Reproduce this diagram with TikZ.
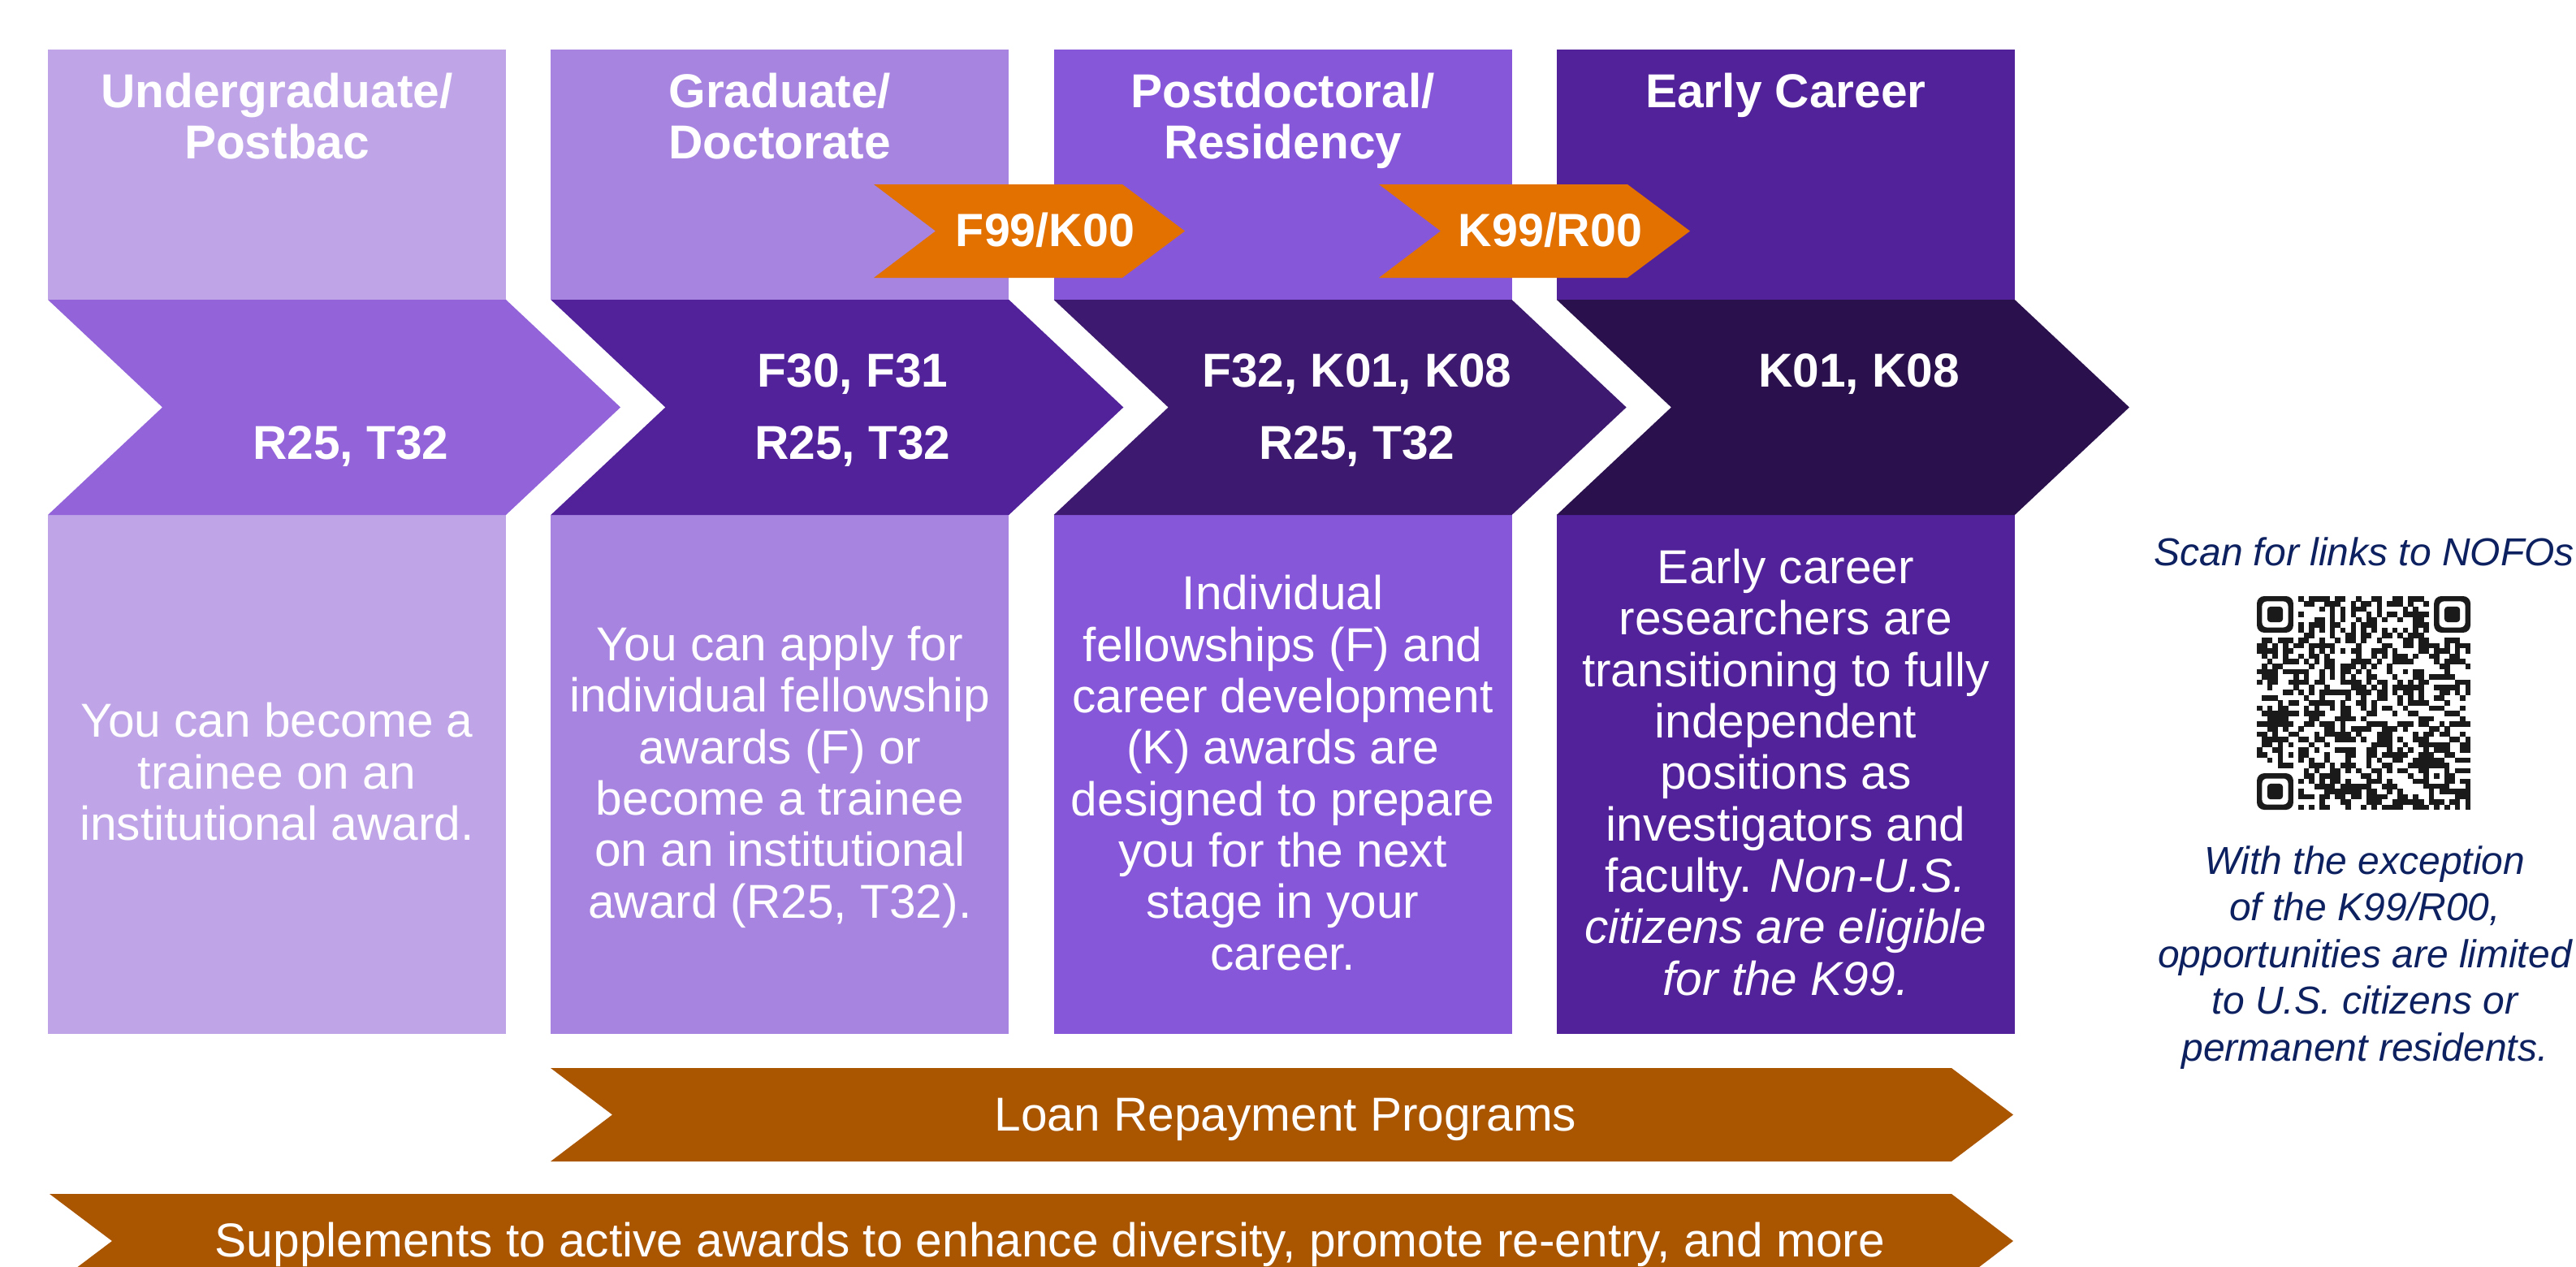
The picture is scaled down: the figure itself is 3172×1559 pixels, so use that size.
\documentclass[tikz,border=0pt]{standalone}
\usepackage{fontspec}
\setmainfont{Liberation Sans}
\definecolor{hA}{HTML}{BFA5E8}
\definecolor{cA}{HTML}{9263D9}
\definecolor{hB}{HTML}{A784E0}
\definecolor{cB}{HTML}{52229B}
\definecolor{hC}{HTML}{8757D9}
\definecolor{cC}{HTML}{3D1A70}
\definecolor{hD}{HTML}{52229B}
\definecolor{cD}{HTML}{2A114D}
\definecolor{tagorange}{HTML}{E37100}
\definecolor{bandbrown}{HTML}{AA5500}
\definecolor{navy}{HTML}{0D2160}
\definecolor{qrdark}{HTML}{1A1A1A}
\tikzset{
  hdr/.style={text=white, font=\bfseries\fontsize{29.3}{31.25}\selectfont, align=center, anchor=base, inner sep=0pt},
  chv/.style={text=white, font=\bfseries\fontsize{29.3}{44.5}\selectfont, align=center, anchor=base, inner sep=0pt},
  tagtext/.style={text=white, font=\bfseries\fontsize{28.7}{31}\selectfont, anchor=base, inner sep=0pt},
  body/.style={text=white, font=\fontsize{29.3}{31.65}\selectfont, align=center, anchor=base, inner sep=0pt},
  bandtext/.style={text=white, font=\fontsize{29.3}{31.65}\selectfont, anchor=base, inner sep=0pt},
  note/.style={text=navy, font=\itshape\fontsize{24}{28.75}\selectfont, align=center, anchor=base, inner sep=0pt},
}
\begin{document}
\begin{tikzpicture}[x=0.5pt,y=-0.5pt]
\useasboundingbox (0,0) rectangle (3172,1559);
\clip (0,0) rectangle (3172,1559);
\fill[white] (0,0) rectangle (3172,1559);
% columns
\foreach \i/\hc/\cc in {0/hA/cA,1/hB/cB,2/hC/cC,3/hD/cD}{
  \pgfmathsetmacro\L{59+619.3*\i}
  \pgfmathsetmacro\R{\L+564}
  \fill[\hc] (\L,61) rectangle (\R,369);
  \fill[\hc] (\L,634) rectangle (\R,1273);
  \fill[\cc] (\L,369) -- (\R,369) -- ({\R+141},501.5) -- (\R,634) -- (\L,634) -- ({\L+141},501.5) -- cycle;
}
% orange tags
\fill[tagorange] (1076,227) -- (1382,227) -- (1459,284.5) -- (1382,342) -- (1076,342) -- (1152,284.5) -- cycle;
\fill[tagorange] (1698,227) -- (2004,227) -- (2081,284.5) -- (2004,342) -- (1698,342) -- (1774,284.5) -- cycle;
% brown bands
\fill[bandbrown] (678,1315) -- (2403,1315) -- (2479,1372.5) -- (2403,1430) -- (678,1430) -- (754,1372.5) -- cycle;
\fill[bandbrown] (61,1470) -- (2403,1470) -- (2479,1528) -- (2403,1586) -- (61,1586) -- (138,1528) -- cycle;
% headers (anchor base = baseline of last line)
\node[hdr] (h1) at (341,195) {Undergraduate/\\Postbac};
\node[hdr] (h2) at (960.3,195) {Graduate/\\Doctorate};
\node[hdr] (h3) at (1579.6,195) {Postdoctoral/\\Residency};
\node[hdr] (h4) at (2198.9,132.6) {Early Career};
% chevron texts
\node[chv] (c1) at (432,565) {R25, T32};
\node[chv] (c2) at (1050,565) {F30, F31\\R25, T32};
\node[chv] (c3) at (1671,565) {F32, K01, K08\\R25, T32};
\node[chv] (c4) at (2289,476) {K01, K08};
% tags
\node[tagtext] (t1) at (1287,303.6) {F99/K00};
\node[tagtext] (t2) at (1909,303.6) {K99/R00};
% bodies
\node[body] (b1) at (341,1034.5) {You can become a\\trainee on an\\institutional award.};
\node[body] (b2) at (960.3,1130) {You can apply for\\individual fellowship\\awards (F) or\\become a trainee\\on an institutional\\award (R25, T32).};
\node[body] (b3) at (1579.6,1194) {Individual\\fellowships (F) and\\career development\\(K) awards are\\designed to prepare\\you for the next\\stage in your\\career.};
\node[body] (b4) at (2198.9,1225) {Early career\\researchers are\\transitioning to fully\\independent\\positions as\\investigators and\\faculty. \textit{Non-U.S.}\\\textit{citizens are eligible}\\\textit{for the K99.}};
% bands text
\node[bandtext] (lrp) at (1583,1392) {Loan Repayment Programs};
\node[bandtext] (sup) at (1293,1547) {Supplements to active awards to enhance diversity, promote re-entry, and more};
% note
\node[note] (n0) at (2911,696) {Scan for links to NOFOs};
\node[note] (n1) at (2912,1306) {With the exception\\of the K99/R00,\\opportunities are limited\\to U.S. citizens or\\permanent residents.};
% QR code (drawn pattern)
\begin{scope}[shift={(2779,734)}]
  \pgfmathsetseed{4242}
  \def\qm{6.415}
  \foreach \i in {0,...,40}{
    \foreach \j in {0,...,40}{
      \pgfmathtruncatemacro\qskip{((\i<8)&&(\j<8))||((\i>32)&&(\j<8))||((\i<8)&&(\j>32))||((\i>31)&&(\i<37)&&(\j>31)&&(\j<37))||(\i==6)||(\j==6)}
      \ifnum\qskip=0
        \pgfmathrandominteger{\qr}{0}{99}
        \ifnum\qr<48
          \fill[qrdark] ({\i*\qm},{\j*\qm}) rectangle +(6.6,6.6);
        \fi
      \fi
    }
  }
  \foreach \k in {8,10,...,32}{
    \fill[qrdark] ({6*\qm},{\k*\qm}) rectangle +(6.6,6.6);
    \fill[qrdark] ({\k*\qm},{6*\qm}) rectangle +(6.6,6.6);
  }
  \foreach \fx/\fy in {0/0,34/0,0/34}{
    \fill[qrdark, rounded corners=4.5pt] ({\fx*\qm},{\fy*\qm}) rectangle ({(\fx+7)*\qm},{(\fy+7)*\qm});
    \fill[white, rounded corners=3pt] ({(\fx+1)*\qm},{(\fy+1)*\qm}) rectangle ({(\fx+6)*\qm},{(\fy+6)*\qm});
    \fill[qrdark, rounded corners=2pt] ({(\fx+2)*\qm},{(\fy+2)*\qm}) rectangle ({(\fx+5)*\qm},{(\fy+5)*\qm});
  }
  \fill[qrdark] ({32*\qm},{32*\qm}) rectangle ({37*\qm},{37*\qm});
  \fill[white] ({33*\qm},{33*\qm}) rectangle ({36*\qm},{36*\qm});
  \fill[qrdark] ({34*\qm},{34*\qm}) rectangle ({35*\qm},{35*\qm});
\end{scope}
\end{tikzpicture}
\end{document}
